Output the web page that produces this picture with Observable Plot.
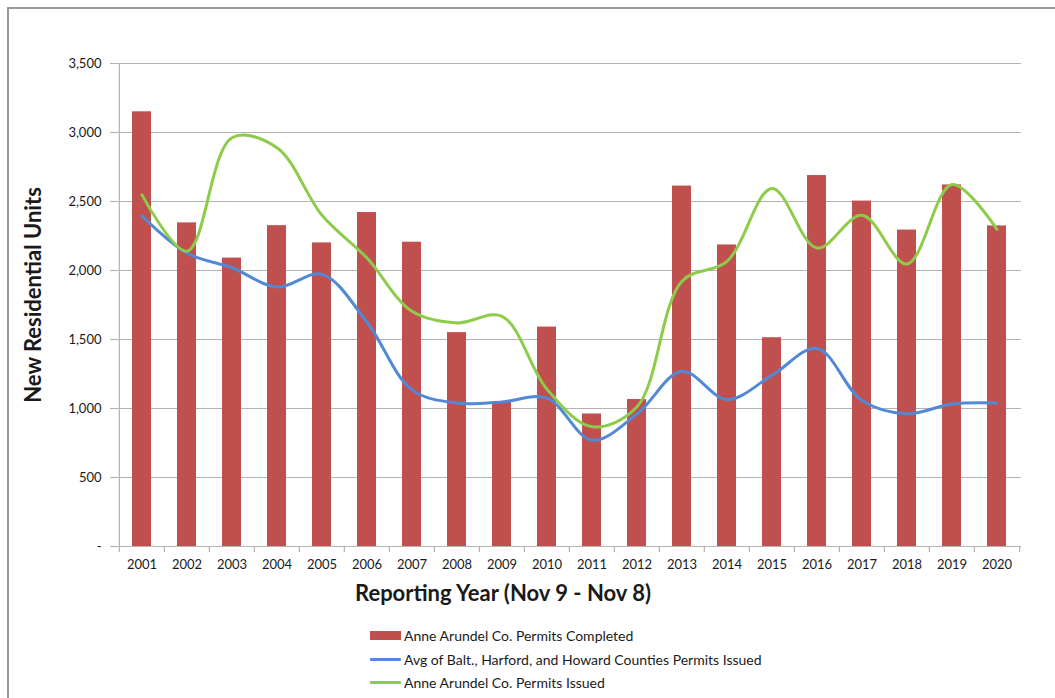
<!DOCTYPE html>
<html>
<head>
<meta charset="utf-8">
<script src="https://cdn.jsdelivr.net/npm/d3@7"></script>
<script src="https://cdn.jsdelivr.net/npm/@observablehq/plot@0.6"></script>
<style>
  html, body { margin: 0; padding: 0; background: #fff; }
  #wrap { position: relative; width: 1055px; height: 698px; overflow: hidden; font-family: Lato, "Open Sans", sans-serif; }
  #frame { position: absolute; left: 7px; top: 7px; right: -10px; bottom: -10px; border-left: 2px solid #999; border-top: 2px solid #999; pointer-events: none; }
  #chart { position: absolute; left: 0; top: 0; }
  #legend { position: absolute; left: 370px; top: 624px; font-size: 14px; color: #1a1a1a; }
  #legend .row { display: flex; align-items: center; height: 23.5px; }
  #legend .sw { width: 31px; margin-right: 3px; }
  #legend .bar { height: 9px; background: #c0504d; }
  #legend .ln { height: 3px; border-radius: 1px; }
</style>
</head>
<body>
<div id="wrap">
  <div id="chart"></div>
  <div id="frame"></div>
  <div id="legend"></div>
</div>
<script>
// Reporting years (Nov 9 - Nov 8)
const years = ["2001","2002","2003","2004","2005","2006","2007","2008","2009","2010",
               "2011","2012","2013","2014","2015","2016","2017","2018","2019","2020"];

// Anne Arundel Co. permits completed (bars)
const aaCompleted = [3150, 2345, 2090, 2325, 2200, 2420, 2205, 1550, 1045, 1590,
                     960, 1065, 2612, 2185, 1513, 2688, 2503, 2293, 2620, 2323];

// Avg of Balt., Harford, and Howard Counties permits issued
const avgIssued = [2395, 2125, 2020, 1880, 1972, 1625, 1135, 1040, 1048, 1075,
                   770, 960, 1270, 1065, 1240, 1435, 1058, 962, 1032, 1040];

// Anne Arundel Co. permits issued
const aaIssued = [2548, 2140, 2962, 2890, 2400, 2090, 1704, 1620, 1668, 1140,
                  868, 1012, 1922, 2066, 2595, 2163, 2400, 2047, 2623, 2298];

const yTicks = [0, 500, 1000, 1500, 2000, 2500, 3000, 3500];

const seriesNames = [
  "Anne Arundel Co. Permits Completed",
  "Avg of Balt., Harford, and Howard Counties Permits Issued",
  "Anne Arundel Co. Permits Issued"
];
const colors = { bar: "#c0504d", avg: "#5189d6", aa: "#8dcc4a" };

const rows = years.map((year, i) => ({
  year, completed: aaCompleted[i], avg: avgIssued[i], issued: aaIssued[i]
}));

const W = 1055, H = 615;
const mL = 116, mR = 34, mT = 63, mB = 69;
const step = (W - mL - mR) / years.length;
const grey = "#b3b3b3";
const fmt = d3.format(",");

const chart = Plot.plot({
  width: W,
  height: H,
  marginLeft: mL,
  marginRight: mR,
  marginTop: mT,
  marginBottom: mB,
  style: { fontFamily: "Lato, 'Open Sans', sans-serif", background: "transparent", color: "#1a1a1a" },
  x: { domain: years, paddingInner: 0.585, paddingOuter: 0.2925, label: null },
  y: { domain: [0, 3500], label: null },
  marks: [
    Plot.gridY(yTicks.filter(d => d > 0), { stroke: grey, strokeOpacity: 1, strokeWidth: 1.2 }),
    Plot.barY(rows, { x: "year", y: "completed", fill: colors.bar }),
    Plot.line(rows, { x: "year", y: "avg", stroke: colors.avg, strokeWidth: 3, curve: "catmull-rom" }),
    Plot.line(rows, { x: "year", y: "issued", stroke: colors.aa, strokeWidth: 3, curve: "catmull-rom" }),
    // axis lines
    Plot.ruleY([0], { stroke: grey, strokeWidth: 1.2 }),
    Plot.ruleX([years[0]], { dx: -step / 2, stroke: grey, strokeWidth: 1.2 }),
    // y ticks and labels
    Plot.axisY(yTicks, { tickSize: 6, text: null, stroke: grey, strokeWidth: 1.2 }),
    Plot.axisY(yTicks, { tickSize: 0, tickPadding: 15, fontSize: 13,
      tickFormat: d => d === 0 ? "-" : fmt(d) }),
    // x ticks on category boundaries, labels centred on the bars
    Plot.axisX(years, { tickSize: 6, text: null, dx: -step / 2, stroke: grey, strokeWidth: 1.2 }),
    Plot.axisX([years[years.length - 1]], { tickSize: 6, text: null, dx: step / 2, stroke: grey, strokeWidth: 1.2 }),
    Plot.axisX(years, { tickSize: 0, tickPadding: 13, fontSize: 13 }),
    // axis titles
    Plot.text(["Reporting Year (Nov 9 - Nov 8)"], {
      frameAnchor: "bottom", dx: -66, dy: 54, fontSize: 22, fontWeight: "bold", fill: "#1a1a1a"
    }),
    Plot.text(["New Residential Units"], {
      frameAnchor: "left", textAnchor: "middle", rotate: -90, dx: -83, dy: -10,
      fontSize: 22, fontWeight: "bold", fill: "#1a1a1a"
    })
  ]
});
document.getElementById("chart").append(chart);

// legend
const legend = document.getElementById("legend");
const swatches = [
  el => { el.className = "sw bar"; },
  el => { el.className = "sw ln"; el.style.background = colors.avg; },
  el => { el.className = "sw ln"; el.style.background = colors.aa; }
];
seriesNames.forEach((name, i) => {
  const row = document.createElement("div");
  row.className = "row";
  const sw = document.createElement("div");
  swatches[i](sw);
  const label = document.createElement("span");
  label.textContent = name;
  row.append(sw, label);
  legend.append(row);
});
</script>
</body>
</html>
